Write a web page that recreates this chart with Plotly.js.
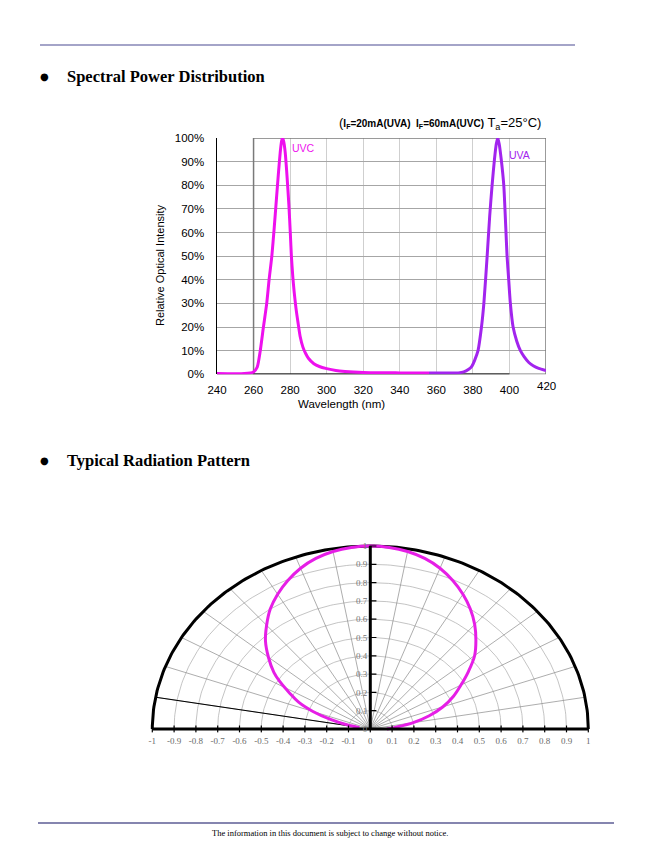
<!DOCTYPE html>
<html>
<head>
<meta charset="utf-8">
<script src="https://cdn.plot.ly/plotly-3.0.1.min.js"></script>
<style>
html,body{margin:0;padding:0;background:#fff;}
#page{width:659px;height:846px;}
</style>
</head>
<body>
<div id="page"></div>
<script>
// ---------- Spectral data ----------
const wlUVC = [240, 255, 260, 262, 263.6, 265.4, 267.2, 268.5, 270, 271.3, 272.5, 273.6, 274.6, 275.3, 275.8, 276.5, 277.3, 278.3, 279.3, 280.1, 280.7, 281.5, 282.2, 283.2, 284.3, 285.5, 287, 288.5, 290, 293, 296, 300, 305, 310, 320, 340, 356];
const relUVC = [0.3, 0.3, 1, 3, 9.6, 20, 30, 40, 50, 62, 74, 85, 94, 98.5, 100, 98.5, 94, 84, 72, 60, 50, 41, 35, 28, 22, 16, 11.5, 8.8, 6.8, 4.5, 3.3, 2.4, 1.6, 1.2, 0.8, 0.6, 0.5];
const wlUVA = [356, 365, 372, 375, 377.5, 379.5, 381, 382.8, 384.7, 386, 387.8, 389.2, 390.5, 391.8, 392.8, 393.6, 394.4, 395.5, 396.9, 398, 398.7, 399.6, 400.5, 402, 404, 406, 408, 410.6, 413, 416, 420];
const relUVA = [0.5, 0.5, 0.6, 1, 2, 3.5, 6, 10, 20, 30, 50, 67, 80, 91, 97.5, 100, 97.5, 91, 80, 62, 50, 40, 30, 20, 14, 10, 7.5, 5, 3.6, 2.5, 1.6];
const wlTicks = [240, 260, 280, 300, 320, 340, 360, 380, 400];
const pctTicks = [0, 10, 20, 30, 40, 50, 60, 70, 80, 90, 100];
const pctLabels = ['0%', '10%', '20%', '30%', '40%', '50%', '60%', '70%', '80%', '90%', '100%'];

// ---------- Radiation pattern data (angle from vertical, relative intensity) ----------
const angleDeg = [-82, -78, -74, -70, -66, -62, -58, -55, -50, -45, -40, -35, -30, -25, -20, -15, -10, -5, 0, 5, 10, 15, 20, 25, 30, 35, 40, 45, 50, 55, 60, 65, 70, 75, 80, 85, 90];
const intensity = [0.05, 0.11, 0.19, 0.28, 0.36, 0.42, 0.49, 0.54, 0.61, 0.68, 0.74, 0.8, 0.85, 0.895, 0.935, 0.965, 0.985, 0.996, 1, 0.996, 0.985, 0.965, 0.935, 0.895, 0.85, 0.8, 0.745, 0.685, 0.625, 0.55, 0.48, 0.42, 0.355, 0.28, 0.2, 0.12, 0.076];
const patternTicks = [-1, -0.9, -0.8, -0.7, -0.6, -0.5, -0.4, -0.3, -0.2, -0.1, 0, 0.1, 0.2, 0.3, 0.4, 0.5, 0.6, 0.7, 0.8, 0.9, 1];
const radialTicks = [0, 0.1, 0.2, 0.3, 0.4, 0.5, 0.6, 0.7, 0.8, 0.9, 1];
const gridRadii = [0.1, 0.2, 0.3, 0.4, 0.5, 0.6, 0.7, 0.8, 0.9];
const gridAngles = [10, 20, 30, 40, 50, 60, 70, 80, 100, 110, 120, 130, 140, 150, 160, 170];

const W = 659, H = 846;
const px = v => v / W;
const py = v => 1 - v / H;
const SANS = 'Liberation Sans, Arial, sans-serif';
const SERIF = 'Liberation Serif, Times New Roman, serif';
const d2r = Math.PI / 180;

const traces = [];
// Spectral curves
traces.push({x: wlUVC, y: relUVC, xaxis: 'x', yaxis: 'y', mode: 'lines',
  line: {color: '#ee10ee', width: 3, shape: 'spline', smoothing: 0.6}, hoverinfo: 'skip'});
traces.push({x: wlUVA, y: relUVA, xaxis: 'x', yaxis: 'y', mode: 'lines',
  line: {color: '#a224ee', width: 3, shape: 'spline', smoothing: 0.6}, hoverinfo: 'skip'});

// Radiation grid: arcs
function arc(r, a0, a1) {
  const xs = [], ys = [];
  for (let a = a0; a <= a1 + 1e-9; a += 1) { xs.push(r * Math.cos(a * d2r)); ys.push(r * Math.sin(a * d2r)); }
  return {xs, ys};
}
gridRadii.forEach(r => {
  const a = arc(r, 0, 180);
  traces.push({x: a.xs, y: a.ys, xaxis: 'x2', yaxis: 'y2', mode: 'lines',
    line: {color: '#ababab', width: 0.7}, hoverinfo: 'skip'});
});
gridAngles.forEach(ang => {
  traces.push({x: [0, Math.cos(ang * d2r)], y: [0, Math.sin(ang * d2r)], xaxis: 'x2', yaxis: 'y2', mode: 'lines',
    line: {color: '#8a8a8a', width: 0.7}, hoverinfo: 'skip'});
});
// thin black radial line at 170°
traces.push({x: [Math.cos(170 * d2r), 0.1 * Math.cos(170 * d2r)], y: [Math.sin(170 * d2r), 0.1 * Math.sin(170 * d2r)],
  xaxis: 'x2', yaxis: 'y2', mode: 'lines', line: {color: '#000', width: 1}, hoverinfo: 'skip'});
// Outer arc
const outer = arc(1, 0, 180);
traces.push({x: outer.xs, y: outer.ys, xaxis: 'x2', yaxis: 'y2', mode: 'lines',
  line: {color: '#000', width: 3}, hoverinfo: 'skip'});
// Radiation curve
traces.push({
  x: angleDeg.map((a, i) => intensity[i] * Math.sin(a * d2r)),
  y: angleDeg.map((a, i) => intensity[i] * Math.cos(a * d2r)),
  xaxis: 'x2', yaxis: 'y2', mode: 'lines', line: {color: '#e61ee6', width: 3, shape: 'spline', smoothing: 1}, hoverinfo: 'skip'});
// Axes lines
traces.push({x: [-1, 1], y: [0, 0], xaxis: 'x2', yaxis: 'y2', mode: 'lines', line: {color: '#000', width: 3}, hoverinfo: 'skip'});
traces.push({x: [0, 0], y: [0, 1], xaxis: 'x2', yaxis: 'y2', mode: 'lines', line: {color: '#000', width: 3}, hoverinfo: 'skip'});
// tick marks
traces.push({x: patternTicks, y: patternTicks.map(() => 0), xaxis: 'x2', yaxis: 'y2', mode: 'markers',
  marker: {symbol: 'line-ns', size: 5, line: {color: '#000', width: 1.2}}, hoverinfo: 'skip'});
traces.push({x: radialTicks.map(() => 0.012), y: radialTicks, xaxis: 'x2', yaxis: 'y2', mode: 'markers',
  marker: {symbol: 'line-ew', size: 5, line: {color: '#000', width: 1.2}}, hoverinfo: 'skip'});

function note(x, y, text, font, extra) {
  return Object.assign({xref: 'paper', yref: 'paper', x: px(x), y: py(y), xanchor: 'center', yanchor: 'middle',
    text: text, showarrow: false, font: font}, extra || {});
}

const layout = {
  width: W, height: H,
  margin: {l: 0, r: 0, t: 0, b: 0},
  paper_bgcolor: '#fff', plot_bgcolor: 'rgba(0,0,0,0)',
  showlegend: false,
  xaxis: {
    domain: [px(217), px(546)], range: [240, 420], anchor: 'y',
    tickmode: 'array', tickvals: wlTicks, ticktext: wlTicks.map(String),
    showgrid: true, gridcolor: '#cfcfcf', gridwidth: 1, zeroline: false, showline: false, ticks: '',
    tickfont: {family: SANS, size: 11.5, color: '#000'}, ticklabelstandoff: 7, fixedrange: true
  },
  yaxis: {
    domain: [py(374.3), py(138)], range: [0, 100], anchor: 'x',
    tickmode: 'array', tickvals: pctTicks, ticktext: pctLabels,
    showgrid: true, gridcolor: '#a6a6a6', gridwidth: 1, zeroline: false,
    showline: true, linecolor: '#000', linewidth: 1.5, ticks: '',
    tickfont: {family: SANS, size: 11.5, color: '#000'}, ticklabelstandoff: 9, fixedrange: true
  },
  xaxis2: {
    domain: [px(370.3 - 1.03 * 218), px(370.3 + 1.03 * 218)], range: [-1.03, 1.03], anchor: 'y2',
    tickmode: 'array', tickvals: patternTicks, ticktext: patternTicks.map(String),
    showgrid: false, zeroline: false, showline: false, ticks: '',
    tickfont: {family: SERIF, size: 9, color: '#6a6a6a'}, ticklabelstandoff: 1, fixedrange: true
  },
  yaxis2: {
    domain: [py(729 + 0.02 * 183), py(729 - 1.03 * 183)], range: [-0.02, 1.03], anchor: 'free', position: px(370.3),
    tickmode: 'array', tickvals: radialTicks, ticktext: radialTicks.map(String),
    showgrid: false, zeroline: false, showline: false, ticks: '',
    tickfont: {family: SERIF, size: 9, color: '#777'}, ticklabelstandoff: 3, fixedrange: true
  },
  shapes: [
    {type: 'line', xref: 'paper', yref: 'paper', x0: px(40), x1: px(575), y0: py(45), y1: py(45), line: {color: '#a4a4c8', width: 2}},
    {type: 'line', xref: 'paper', yref: 'paper', x0: px(38), x1: px(614), y0: py(823), y1: py(823), line: {color: '#5c5c94', width: 1.5}},
    {type: 'rect', xref: 'x', yref: 'y', x0: 260, x1: 420, y0: 0, y1: 100, layer: 'between', line: {color: '#7a7a7a', width: 1.5}},
    {type: 'line', xref: 'x', yref: 'y', x0: 240, x1: 400, y0: 0, y1: 0, layer: 'between', line: {color: '#000', width: 1.5}}
  ],
  annotations: [
    note(44, 77, '●', {family: 'DejaVu Sans', size: 10, color: '#000'}),
    note(65, 77, '<b>Spectral Power Distribution</b>', {family: SERIF, size: 16.5, color: '#000'}, {xanchor: 'left'}),
    note(44, 461, '●', {family: 'DejaVu Sans', size: 10, color: '#000'}),
    note(65, 461, '<b>Typical Radiation Pattern</b>', {family: SERIF, size: 16.5, color: '#000'}, {xanchor: 'left'}),
    note(330, 833, 'The information in this document is subject to change without notice.', {family: SERIF, size: 8.5, color: '#000'}),
    note(440, 124, '(<span style="font-size:10px"><b>I<sub>F</sub>=20mA(UVA)  I<sub>F</sub>=60mA(UVC)</b></span> T<sub>a</sub>=25°C)', {family: SANS, size: 13, color: '#000'}),
    note(160, 265, 'Relative Optical Intensity', {family: SANS, size: 11, color: '#000'}, {textangle: -90}),
    note(341, 404, 'Wavelength (nm)', {family: SANS, size: 11.5, color: '#000'}),
    {xref: 'x', yref: 'y', x: 420, y: 0, xanchor: 'center', yanchor: 'middle', yshift: -12, text: '420', showarrow: false, font: {family: SANS, size: 11.5, color: '#000'}},
    {xref: 'x', yref: 'y', x: 280, y: 95.8, xanchor: 'left', yanchor: 'middle', text: 'UVC', showarrow: false, font: {family: SANS, size: 10.5, color: '#ee10ee'}},
    {xref: 'x', yref: 'y', x: 398.4, y: 92.8, xanchor: 'left', yanchor: 'middle', text: 'UVA', showarrow: false, font: {family: SANS, size: 10.5, color: '#a224ee'}}
  ]
};

Plotly.newPlot('page', traces, layout, {staticPlot: true, displayModeBar: false});
</script>
</body>
</html>
